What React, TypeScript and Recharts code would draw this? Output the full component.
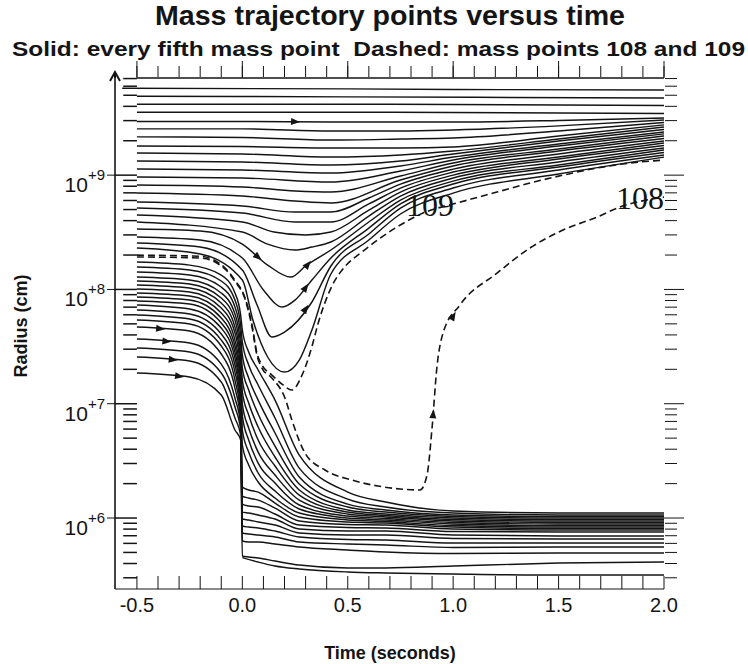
import React from "react";
import { LineChart, Line, XAxis, YAxis, ReferenceLine, ReferenceDot, Label } from "recharts";

// x: time in seconds, y: log10 of radius in cm
const T_MIN = -0.604;
const T_MAX = 2.0;
const LG_MIN = 5.379;
const LG_MAX = 9.85;

const timeTicks = [-0.5, -0.4, -0.3, -0.2, -0.1, 0, 0.1, 0.2, 0.3, 0.4, 0.5, 0.6, 0.7, 0.8, 0.9, 1.0, 1.1, 1.2, 1.3, 1.4, 1.5, 1.6, 1.7, 1.8, 1.9, 2.0];
const timeLabels = [-0.5, 0, 0.5, 1, 1.5, 2];
const decadeTicks = [6, 7, 8, 9];
const minorTicks = [5, 6, 7, 8, 9]
  .flatMap((d) => [2, 3, 4, 5, 6, 7, 8, 9].map((m) => d + Math.log10(m)))
  .filter((v) => v > LG_MIN && v < LG_MAX);

// outer shells that hardly move
const outerShells = [
  [[-0.57, 9.76], [0.5, 9.755], [1.0, 9.75], [2.0, 9.745]],
  [[-0.5, 9.69], [0.5, 9.685], [2.0, 9.675]],
  [[-0.5, 9.62], [0.5, 9.62], [2.0, 9.61]],
  [[-0.5, 9.55], [0.5, 9.55], [2.0, 9.54]],
];

// shells that sag / bounce and pile up in the rising band
const bounceShells = [
  [[-0.5, 9.47], [0, 9.47], [0.42, 9.465], [0.75, 9.465], [1.0, 9.465], [1.5, 9.478], [2.0, 9.5]],
  [[-0.5, 9.405], [0, 9.405], [0.42, 9.386], [0.75, 9.386], [1.0, 9.395], [1.5, 9.431], [2.0, 9.482]],
  [[-0.5, 9.335], [0, 9.33], [0.42, 9.307], [0.75, 9.316], [1.0, 9.325], [1.5, 9.386], [2.0, 9.461]],
  [[-0.5, 9.255], [0, 9.25], [0.42, 9.237], [0.75, 9.237], [1.0, 9.246], [1.5, 9.343], [2.0, 9.44]],
  [[-0.5, 9.193], [0, 9.185], [0.42, 9.158], [0.75, 9.176], [1.0, 9.211], [1.5, 9.316], [2.0, 9.422]],
  [[-0.5, 9.123], [0, 9.115], [0.42, 9.088], [0.75, 9.123], [1.0, 9.185], [1.5, 9.298], [2.0, 9.4]],
  [[-0.5, 9.053], [0, 9.045], [0.42, 9.018], [0.75, 9.08], [1.0, 9.158], [1.5, 9.272], [2.0, 9.378]],
  [[-0.5, 8.983], [0, 8.975], [0.42, 8.94], [0.75, 9.036], [1.0, 9.132], [1.5, 9.255], [2.0, 9.361]],
  [[-0.5, 8.913], [0, 8.896], [0.25, 8.861], [0.42, 8.852], [0.75, 8.992], [1.0, 9.106], [1.5, 9.228], [2.0, 9.343]],
  [[-0.5, 8.843], [0, 8.817], [0.25, 8.774], [0.42, 8.756], [0.75, 8.957], [1.0, 9.08], [1.5, 9.211], [2.0, 9.321]],
  [[-0.5, 8.765], [0, 8.73], [0.25, 8.677], [0.42, 8.677], [0.6, 8.8], [0.75, 8.922], [1.0, 9.053], [1.5, 9.185], [2.0, 9.298]],
  [[-0.5, 8.712], [0, 8.668], [0.25, 8.59], [0.42, 8.59], [0.6, 8.748], [0.75, 8.887], [1.0, 9.027], [1.5, 9.158], [2.0, 9.281]],
  [[-0.5, 8.651], [0, 8.59], [0.15, 8.502], [0.3, 8.476], [0.42, 8.502], [0.6, 8.694], [0.75, 8.852], [1.0, 9.0], [1.5, 9.141], [2.0, 9.259]],
  [[-0.5, 8.59], [0, 8.502], [0.12, 8.397], [0.25, 8.345], [0.33, 8.371], [0.42, 8.415], [0.6, 8.642], [0.75, 8.817], [1.0, 8.975], [1.5, 9.115], [2.0, 9.237]],
  [[-0.5, 8.528], [-0.2, 8.511], [0, 8.397], [0.12, 8.213], [0.23, 8.108], [0.3, 8.205], [0.42, 8.345], [0.6, 8.59], [0.75, 8.782], [1.0, 8.948], [1.5, 9.088], [2.0, 9.22]],
  [[-0.5, 8.458], [-0.2, 8.432], [0, 8.275], [0.1, 7.995], [0.19, 7.846], [0.25, 7.907], [0.33, 8.082], [0.42, 8.275], [0.6, 8.537], [0.75, 8.748], [1.0, 8.922], [1.5, 9.071], [2.0, 9.198]],
  [[-0.5, 8.406], [-0.2, 8.371], [0, 8.17], [0.07, 7.864], [0.14, 7.584], [0.2, 7.627], [0.33, 7.89], [0.42, 8.205], [0.6, 8.485], [0.75, 8.712], [1.0, 8.887], [1.5, 9.045], [2.0, 9.176]],
  [[-0.5, 8.362], [-0.2, 8.31], [0, 8.082], [0.05, 7.732], [0.12, 7.409], [0.2, 7.277], [0.27, 7.382], [0.33, 7.645], [0.42, 8.135], [0.6, 8.432], [0.75, 8.66], [1.0, 8.843], [1.5, 9.01], [2.0, 9.158]],
];

// core shells, all on one time grid
const coreTimes = [-0.5, -0.25, -0.1, -0.035, -0.008, 0.0, 0.03, 0.075, 0.155, 0.27, 0.5, 0.68, 1.0, 1.5, 2.0];
const coreShells = [
  [8.240, 8.213, 8.126, 7.969, 7.776, 7.645, 7.452, 7.295, 7.032, 6.551, 6.227, 6.140, 6.061, 6.044, 6.044],
  [8.196, 8.170, 8.074, 7.907, 7.689, 7.540, 7.339, 7.164, 6.875, 6.437, 6.166, 6.096, 6.044, 6.026, 6.026],
  [8.152, 8.126, 8.021, 7.846, 7.601, 7.426, 7.225, 7.032, 6.744, 6.359, 6.122, 6.070, 6.026, 6.013, 6.013],
  [8.108, 8.082, 7.969, 7.785, 7.514, 7.312, 7.120, 6.910, 6.630, 6.297, 6.096, 6.052, 6.013, 6.000, 6.000],
  [8.074, 8.047, 7.925, 7.732, 7.426, 7.207, 7.006, 6.796, 6.534, 6.245, 6.070, 6.035, 6.000, 5.987, 5.987],
  [8.039, 8.012, 7.881, 7.671, 7.365, 7.102, 6.901, 6.682, 6.455, 6.201, 6.052, 6.022, 5.987, 5.974, 5.974],
  [8.003, 7.977, 7.837, 7.619, 7.295, 6.997, 6.787, 6.577, 6.376, 6.157, 6.035, 6.009, 5.974, 5.961, 5.961],
  [7.969, 7.942, 7.794, 7.557, 7.225, 6.892, 6.682, 6.481, 6.306, 6.114, 6.017, 5.996, 5.961, 5.948, 5.948],
  [7.934, 7.907, 7.750, 7.505, 7.164, 6.770, 6.577, 6.394, 6.236, 6.079, 6.000, 5.983, 5.948, 5.934, 5.934],
  [7.899, 7.872, 7.706, 7.452, 7.102, 6.639, 6.464, 6.315, 6.175, 6.044, 5.983, 5.969, 5.934, 5.921, 5.921],
  [7.864, 7.829, 7.662, 7.400, 7.032, 6.271, 6.245, 6.227, 6.131, 6.009, 5.965, 5.956, 5.921, 5.908, 5.908],
  [7.820, 7.785, 7.610, 7.339, 6.989, 6.192, 6.175, 6.157, 6.087, 5.974, 5.943, 5.939, 5.904, 5.895, 5.895],
  [7.776, 7.741, 7.557, 7.277, 6.945, 6.122, 6.105, 6.096, 6.035, 5.939, 5.917, 5.913, 5.882, 5.878, 5.878],
  [7.732, 7.697, 7.505, 7.207, 6.901, 6.052, 6.044, 6.026, 5.991, 5.904, 5.886, 5.886, 5.851, 5.843, 5.843],
  [7.671, 7.636, 7.435, 7.137, 6.857, 5.991, 5.983, 5.965, 5.939, 5.869, 5.851, 5.851, 5.821, 5.816, 5.816],
  [7.566, 7.531, 7.347, 7.050, 6.814, 5.930, 5.921, 5.913, 5.886, 5.834, 5.812, 5.808, 5.781, 5.781, 5.781],
  [7.487, 7.452, 7.269, 6.971, 6.770, 5.869, 5.860, 5.851, 5.834, 5.790, 5.773, 5.764, 5.742, 5.746, 5.746],
  [7.409, 7.374, 7.190, 6.875, 6.726, 5.799, 5.790, 5.790, 5.773, 5.746, 5.720, 5.703, 5.689, 5.694, 5.694],
  [7.269, 7.234, 7.076, 6.770, 6.682, 5.668, 5.659, 5.650, 5.624, 5.589, 5.563, 5.563, 5.580, 5.606, 5.615],
];

// innermost shell, only drawn from t = 0
const innerTimes = [0.0, 0.075, 0.155, 0.27, 0.5, 0.68, 1.0, 1.5, 2.0];
const innerShell = [5.654, 5.615, 5.580, 5.554, 5.528, 5.519, 5.510, 5.501, 5.501];

const mass109 = [
  [-0.5, 8.3], [-0.201, 8.29], [-0.083, 8.19], [-0.035, 8.08], [0.012, 7.93], [0.046, 7.689], [0.069, 7.444],
  [0.093, 7.339], [0.14, 7.251], [0.188, 7.172], [0.235, 7.12], [0.283, 7.25], [0.33, 7.5], [0.359, 7.7],
  [0.425, 8.03], [0.487, 8.2], [0.567, 8.327], [0.733, 8.546], [0.857, 8.668], [1.018, 8.756], [1.208, 8.852],
  [1.364, 8.931], [1.521, 9.0], [1.682, 9.062], [1.839, 9.106], [2.0, 9.132],
];

const mass108 = [
  [-0.5, 8.284], [-0.201, 8.275], [-0.083, 8.18], [-0.035, 8.07], [0.012, 7.92], [0.046, 7.67], [0.069, 7.426],
  [0.093, 7.312], [0.14, 7.225], [0.202, 7.05], [0.235, 6.857], [0.297, 6.569], [0.392, 6.42], [0.52, 6.332],
  [0.643, 6.28], [0.748, 6.254], [0.843, 6.245], [0.876, 6.376], [0.899, 6.77], [0.923, 7.321], [0.952, 7.619],
  [1.032, 7.864], [1.208, 8.143], [1.364, 8.362], [1.521, 8.52], [1.682, 8.633], [1.791, 8.721], [2.0, 8.808],
];

// direction arrowheads: time, log radius, heading in degrees (screen)
const arrowMarks = [
  [0.25, 9.468, 3],
  [0.074, 8.284, 40],
  [0.31, 8.217, -50],
  [0.3, 8.016, -55],
  [0.3, 7.83, -55],
  [-0.39, 7.656, 6],
  [-0.36, 7.546, 6],
  [-0.33, 7.385, 7],
  [-0.3, 7.241, 8],
  [0.905, 6.908, -85],
  [1.0, 7.766, -60],
];

const ink = "#141414";
const FONT = '"Liberation Sans", Arial, Helvetica, sans-serif';
const SERIF = '"Liberation Serif", "DejaVu Serif", serif';

const toPts = (pairs: number[][]) => pairs.map(([t, lg]) => ({ t, lg }));
const onGrid = (times: number[], vals: number[]) => vals.map((lg, i) => ({ t: times[i], lg }));

const fmtTime = (v: number) => (timeLabels.some((m) => Math.abs(m - v) < 1e-6) ? v.toFixed(1) : "");
const blank = () => "";

const PowerTick = (props: any) => {
  const { x, y, payload } = props;
  return (
    <text x={x} y={y} textAnchor="end" fontFamily={FONT} fill={ink}>
      <tspan fontSize={21} dy={17}>10</tspan>
      <tspan fontSize={15} dy={-12}>{`+${Math.round(payload.value)}`}</tspan>
    </text>
  );
};

const arrowShape = (angle: number) => (p: any) => (
  <polygon
    points={`${p.cx + 5},${p.cy} ${p.cx - 4},${p.cy - 3.5} ${p.cx - 4},${p.cy + 3.5}`}
    transform={`rotate(${angle} ${p.cx} ${p.cy})`}
    fill={ink}
  />
);

const solid = { stroke: ink, strokeWidth: 1.45, dot: false, isAnimationActive: false, type: "monotone" as const };
const tickOnly = { type: "number" as const, allowDataOverflow: true, interval: 0 as const, tickFormatter: blank, axisLine: false, stroke: ink };

export default function App() {
  return (
    <div style={{ position: "absolute", left: 0, top: 0, width: 748, height: 664, background: "#fff" }}>
      <LineChart width={748} height={664} margin={{ top: 76, right: 82, bottom: 0, left: 0 }}>
        <XAxis
          type="number"
          dataKey="t"
          domain={[T_MIN, T_MAX]}
          allowDataOverflow
          ticks={timeTicks}
          interval={0}
          height={75}
          tickSize={-13}
          tickMargin={22}
          tickFormatter={fmtTime}
          stroke={ink}
          tick={{ fill: ink, fontSize: 20, fontFamily: FONT }}
        >
          <Label
            content={() => (
              <text x={390} y={659} textAnchor="middle" fontSize={18} fontWeight="bold" fontFamily={FONT} fill={ink}>
                Time (seconds)
              </text>
            )}
          />
        </XAxis>
        <XAxis xAxisId="topMinor" orientation="top" dataKey="t" domain={[T_MIN, T_MAX]} ticks={timeTicks} height={1} tickSize={11} {...tickOnly} />
        <XAxis xAxisId="topMajor" orientation="top" dataKey="t" domain={[T_MIN, T_MAX]} ticks={timeLabels} height={1} tickSize={17} {...tickOnly} />
        <YAxis
          type="number"
          domain={[LG_MIN, LG_MAX]}
          allowDataOverflow
          ticks={decadeTicks}
          interval={0}
          width={115}
          tickSize={8}
          tickMargin={2}
          tick={<PowerTick />}
          stroke={ink}
          axisLine={{ stroke: ink, strokeWidth: 1.6 }}
        >
          <Label
            content={() => (
              <text x={0} y={0} transform="translate(22,326) rotate(-90)" textAnchor="middle" dominantBaseline="middle" fontSize={18} fontWeight="bold" fontFamily={FONT} fill={ink}>
                Radius (cm)
              </text>
            )}
          />
        </YAxis>
        <YAxis yAxisId="rightMinor" orientation="right" domain={[LG_MIN, LG_MAX]} ticks={minorTicks} width={1} tickSize={12} {...tickOnly} />
        <YAxis yAxisId="rightMajor" orientation="right" domain={[LG_MIN, LG_MAX]} ticks={decadeTicks} width={1} tickSize={20} {...tickOnly} />

        <ReferenceLine segment={[{ x: -0.5, y: LG_MAX }, { x: T_MAX, y: LG_MAX }]} stroke={ink} strokeWidth={1.5} />
        {decadeTicks.map((d) => (
          <ReferenceLine key={`dt${d}`} segment={[{ x: T_MIN, y: d }, { x: -0.5, y: d }]} stroke={ink} strokeWidth={1.5} />
        ))}
        {minorTicks.map((m, i) => (
          <ReferenceLine key={`mt${i}`} segment={[{ x: -0.565, y: m }, { x: -0.5, y: m }]} stroke={ink} strokeWidth={1.5} />
        ))}
        <ReferenceDot
          x={T_MIN}
          y={LG_MAX}
          r={1}
          shape={(p: any) => (
            <path d={`M${p.cx - 5},${p.cy + 3} L${p.cx},${p.cy - 6} L${p.cx + 5},${p.cy + 3} M${p.cx},${p.cy} L${p.cx},${p.cy - 6}`} stroke={ink} strokeWidth={2} fill="none" />
          )}
        />

        {outerShells.map((s, i) => (
          <Line key={`o${i}`} data={toPts(s)} dataKey="lg" {...solid} />
        ))}
        {bounceShells.map((s, i) => (
          <Line key={`b${i}`} data={toPts(s)} dataKey="lg" {...solid} />
        ))}
        {coreShells.map((s, i) => (
          <Line key={`c${i}`} data={onGrid(coreTimes, s)} dataKey="lg" {...solid} />
        ))}
        <Line data={onGrid(innerTimes, innerShell)} dataKey="lg" {...solid} />
        <Line data={toPts(mass109)} dataKey="lg" {...solid} strokeWidth={1.6} strokeDasharray="7 4" />
        <Line data={toPts(mass108)} dataKey="lg" {...solid} strokeWidth={1.6} strokeDasharray="7 4" />

        {arrowMarks.map(([t, lg, a], i) => (
          <ReferenceDot key={`a${i}`} x={t} y={lg} r={1} shape={arrowShape(a)} />
        ))}

        <ReferenceDot x={0.89} y={8.738} r={1} fill="none" stroke="none" label={{ value: "109", position: "center", fontSize: 32, fontFamily: SERIF, fill: ink }} />
        <ReferenceDot x={1.886} y={8.8} r={1} fill="none" stroke="none" label={{ value: "108", position: "center", fontSize: 32, fontFamily: SERIF, fill: ink }} />
      </LineChart>
      <svg width={748} height={664} style={{ position: "absolute", left: 0, top: 0, pointerEvents: "none" }}>
        <text x={390} y={25} textAnchor="middle" fontSize={27} fontWeight="bold" fontFamily={FONT} fill={ink} textLength={470} lengthAdjust="spacingAndGlyphs">
          Mass trajectory points versus time
        </text>
        <text x={378.5} y={56} textAnchor="middle" fontSize={21} fontWeight="bold" fontFamily={FONT} fill={ink} textLength={733} lengthAdjust="spacingAndGlyphs" style={{ whiteSpace: "pre" }}>
          {"Solid: every fifth mass point\u00A0 Dashed: mass points 108 and 109"}
        </text>
      </svg>
    </div>
  );
}
